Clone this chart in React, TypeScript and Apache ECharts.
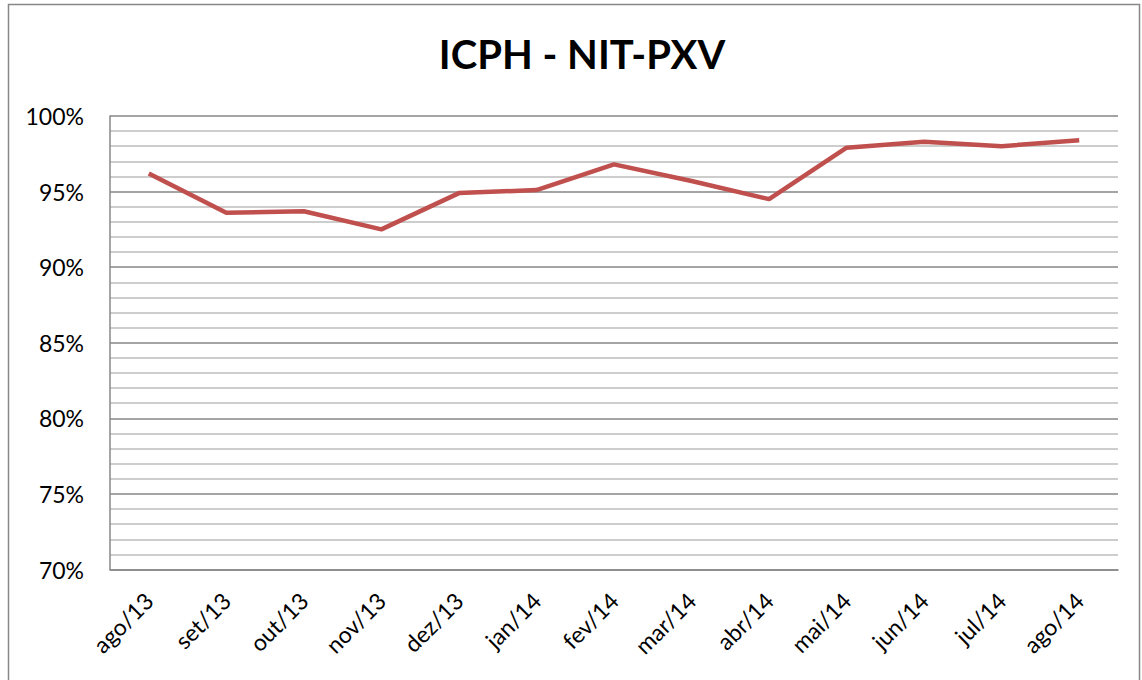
import React, { useEffect, useRef } from "react";
import * as echarts from "echarts";

const categories = [
  "ago/13", "set/13", "out/13", "nov/13", "dez/13", "jan/14", "fev/14",
  "mar/14", "abr/14", "mai/14", "jun/14", "jul/14", "ago/14",
];
const values = [96.2, 93.6, 93.7, 92.5, 94.9, 95.1, 96.8, 95.7, 94.5, 97.9, 98.3, 98.0, 98.4];
const yMin = 70;
const yMax = 100;
const yInterval = 5;

export default function App() {
  const ref = useRef<HTMLDivElement>(null);
  useEffect(() => {
    if (!ref.current) return;
    const chart = echarts.init(ref.current, undefined, { renderer: "svg" });
    chart.setOption({
      animation: false,
      backgroundColor: "#ffffff",
      textStyle: { fontFamily: "Lato" },
      title: {
        text: "ICPH - NIT-PXV",
        left: 577,
        top: 29,
        textAlign: "center",
        textStyle: { fontFamily: "Lato", fontWeight: "bold", fontSize: 40, color: "#000" },
      },
      graphic: [
        {
          type: "rect",
          shape: { x: 8.5, y: 4.5, width: 1131, height: 700 },
          style: { fill: "none", stroke: "#888", lineWidth: 1.5 },
          silent: true,
        },
      ],
      grid: { left: 110, top: 116, right: 24, bottom: 110.5, containLabel: false },
      xAxis: {
        type: "category",
        data: categories,
        boundaryGap: true,
        axisLine: { show: true, lineStyle: { color: "#888", width: 1.5 } },
        axisTick: { show: false },
        axisLabel: {
          rotate: 45,
          margin: 27,
          fontSize: 23,
          fontFamily: "Lato",
          color: "#000",
          interval: 0,
        },
      },
      yAxis: {
        type: "value",
        min: yMin,
        max: yMax,
        interval: yInterval,
        axisLine: { show: true, lineStyle: { color: "#888", width: 1.5 } },
        axisTick: { show: false },
        minorTick: { show: false, splitNumber: 5 },
        splitLine: { show: true, lineStyle: { color: "#868686", width: 1.5 } },
        minorSplitLine: { show: true, lineStyle: { color: "#bdbdbd", width: 1.5 } },
        axisLabel: {
          formatter: "{value}%",
          fontSize: 23,
          fontFamily: "Lato",
          color: "#000",
          margin: 26,
        },
      },
      series: [
        {
          type: "line",
          data: values,
          symbol: "none",
          lineStyle: { color: "#C0504D", width: 4.5 },
          itemStyle: { color: "#C0504D" },
        },
      ],
    });
    return () => chart.dispose();
  }, []);
  return (
    <div
      ref={ref}
      style={{ position: "absolute", left: 0, top: 0, width: 1142, height: 680 }}
    />
  );
}
